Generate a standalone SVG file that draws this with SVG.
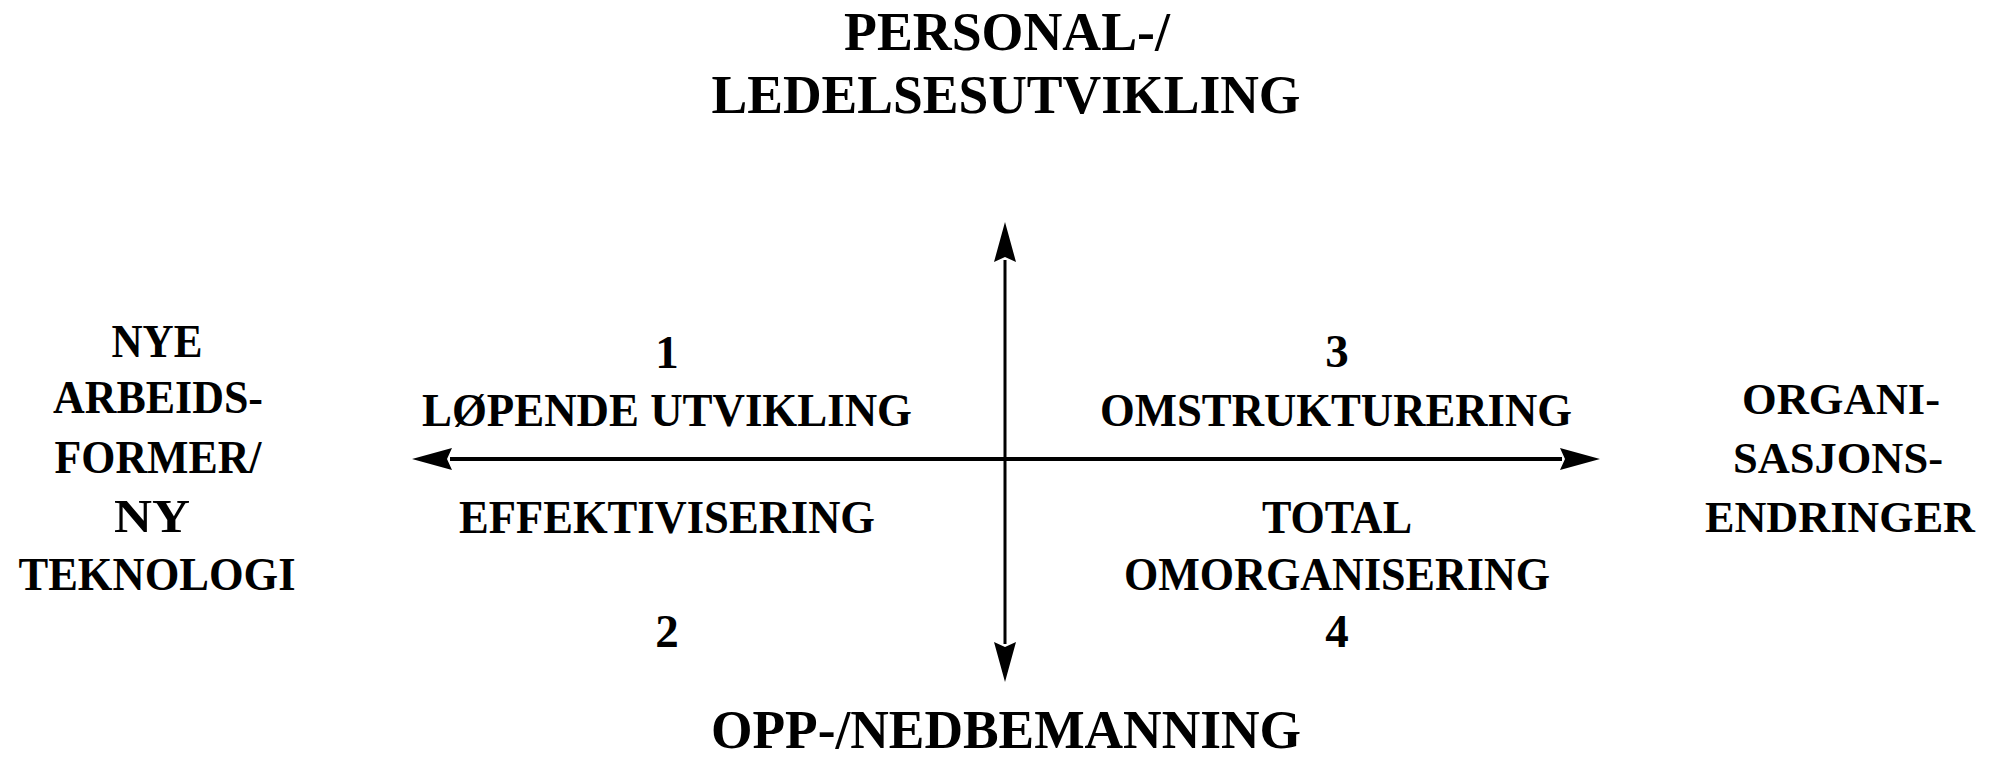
<svg xmlns="http://www.w3.org/2000/svg" width="1990" height="758" viewBox="0 0 1990 758">
  <style>
    text { font-family: "Liberation Serif", "Times New Roman", serif; font-weight: bold; fill: #000; text-anchor: middle; }
    .title { font-size: 55px; }
    .quad { font-size: 47px; }
    .side { font-size: 46px; }
    .sideR { font-size: 44px; }
    .axis { stroke: #000; fill: none; }
  </style>
  <defs>
    <marker id="arrow" markerUnits="userSpaceOnUse" viewBox="-2 -13 44 26" markerWidth="44" markerHeight="26" refX="2" refY="0" orient="auto-start-reverse">
      <path d="M0,-11 L40,0 L0,11 L5,0 Z" fill="#000"/>
    </marker>
  </defs>
  <rect width="1990" height="758" fill="#fff"/>

  <g id="connectors">
    <line class="axis" x1="450" y1="459" x2="1562" y2="459" stroke-width="4" marker-start="url(#arrow)" marker-end="url(#arrow)"/>
    <line class="axis" x1="1005" y1="260" x2="1005" y2="644" stroke-width="3" marker-start="url(#arrow)" marker-end="url(#arrow)"/>
  </g>

  <g id="node-top">
    <text class="title" x="1007" y="50" textLength="326" lengthAdjust="spacingAndGlyphs">PERSONAL-/</text>
    <text class="title" x="1006" y="113" textLength="589" lengthAdjust="spacingAndGlyphs">LEDELSESUTVIKLING</text>
  </g>

  <g id="node-bottom">
    <text class="title" x="1006" y="748" textLength="590" lengthAdjust="spacingAndGlyphs">OPP-/NEDBEMANNING</text>
  </g>

  <g id="node-left">
    <text class="side" x="157" y="357" textLength="91" lengthAdjust="spacingAndGlyphs">NYE</text>
    <text class="side" x="158" y="413" textLength="210" lengthAdjust="spacingAndGlyphs">ARBEIDS-</text>
    <text class="side" x="158" y="473" textLength="207" lengthAdjust="spacingAndGlyphs">FORMER/</text>
    <text class="side" x="152" y="532" textLength="76" lengthAdjust="spacingAndGlyphs">NY</text>
    <text class="side" x="157" y="590" textLength="277" lengthAdjust="spacingAndGlyphs">TEKNOLOGI</text>
  </g>

  <g id="node-right">
    <text class="sideR" x="1841" y="414" textLength="198" lengthAdjust="spacingAndGlyphs">ORGANI-</text>
    <text class="sideR" x="1838" y="473" textLength="210" lengthAdjust="spacingAndGlyphs">SASJONS-</text>
    <text class="sideR" x="1840" y="532" textLength="270" lengthAdjust="spacingAndGlyphs">ENDRINGER</text>
  </g>

  <g id="node-q1">
    <text class="quad" x="667" y="368">1</text>
    <text class="quad" x="667" y="426" textLength="490" lengthAdjust="spacingAndGlyphs">LØPENDE UTVIKLING</text>
  </g>

  <g id="node-q3">
    <text class="quad" x="1337" y="367">3</text>
    <text class="quad" x="1336" y="426" textLength="472" lengthAdjust="spacingAndGlyphs">OMSTRUKTURERING</text>
  </g>

  <g id="node-q2">
    <text class="quad" x="667" y="533" textLength="416" lengthAdjust="spacingAndGlyphs">EFFEKTIVISERING</text>
    <text class="quad" x="667" y="647">2</text>
  </g>

  <g id="node-q4">
    <text class="quad" x="1337" y="533" textLength="150" lengthAdjust="spacingAndGlyphs">TOTAL</text>
    <text class="quad" x="1337" y="590" textLength="426" lengthAdjust="spacingAndGlyphs">OMORGANISERING</text>
    <text class="quad" x="1337" y="647">4</text>
  </g>
</svg>
